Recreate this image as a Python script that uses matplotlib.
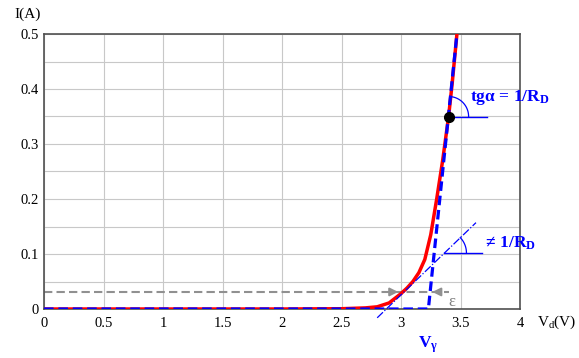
import matplotlib.pyplot as plt
import numpy as np
from matplotlib.ticker import MultipleLocator

# diode curve
v_diode = [0, 2.0, 2.5, 2.7, 2.8, 2.9, 3.0, 3.05, 3.1, 3.15, 3.2, 3.25, 3.3, 3.35, 3.4, 3.43, 3.47]
i_diode = [0, 0, 0.0005, 0.002, 0.004, 0.011, 0.028, 0.038, 0.05, 0.066, 0.09, 0.135, 0.2, 0.27, 0.35, 0.41, 0.5]

# piecewise linear model
v_model = [0, 3.23, 3.47]
i_model = [0, 0, 0.5]

# tangent at the low point
v_tan = [2.80, 3.63]
i_tan = [-0.016, 0.157]

x_ticks = [0, 0.5, 1, 1.5, 2, 2.5, 3, 3.5, 4]
x_labels = ['0', '0.5', '1', '1.5', '2', '2.5', '3', '3.5', '4']
y_ticks = [0, 0.1, 0.2, 0.3, 0.4, 0.5]
y_labels = ['0', '0.1', '0.2', '0.3', '0.4', '0.5']

v_op, i_op = 3.40, 0.35
i_eps = 0.031

plt.rcParams['font.family'] = ['Liberation Serif', 'DejaVu Serif']
plt.rcParams['mathtext.fontset'] = 'custom'
plt.rcParams['mathtext.rm'] = 'Liberation Serif'
plt.rcParams['mathtext.it'] = 'Liberation Serif:italic'
plt.rcParams['mathtext.bf'] = 'Liberation Serif:bold'

fig = plt.figure(figsize=(5.79, 3.58), dpi=100)
ax = fig.add_axes((44/579, 49/358, 476/579, 275/358))
sx, sy = 476/4, 275/0.5   # px per unit

ax.set_xlim(0, 4)
ax.set_ylim(0, 0.5)
ax.set_xticks(x_ticks)
ax.set_xticklabels(x_labels)
ax.set_yticks(y_ticks)
ax.set_yticklabels(y_labels)
ax.yaxis.set_minor_locator(MultipleLocator(0.05))
ax.tick_params(which='both', length=0, labelsize=10.5, colors='black')
ax.tick_params(axis='x', pad=6)
ax.tick_params(axis='y', pad=4)
ax.grid(which='both', color='#c8c8c8', lw=0.8)
ax.set_axisbelow(True)
for s in ax.spines.values():
    s.set_color('#505050')
    s.set_linewidth(1.2)

ax.plot(v_diode, i_diode, color='#ff0000', lw=2.5, zorder=3)
ax.plot(v_model, i_model, color='#0000ff', lw=2.3, ls=(0, (3, 1.5)), zorder=4)
ax.plot(v_tan, i_tan, color='#0000ff', lw=0.9, ls='-.', zorder=4, clip_on=False)

# grey dashed epsilon line with arrows
ax.plot([0, 3.4], [i_eps, i_eps], color='#909090', lw=1.5, ls=(0, (4, 2)), zorder=2)
ax.annotate('', xy=(3.0, i_eps), xytext=(2.88, i_eps),
            arrowprops=dict(arrowstyle='-|>', color='#909090', lw=1.5, mutation_scale=12))
ax.annotate('', xy=(3.24, i_eps), xytext=(3.36, i_eps),
            arrowprops=dict(arrowstyle='-|>', color='#909090', lw=1.5, mutation_scale=12))
ax.text(3.40, 0.013, 'ε', color='#808080', fontsize=12, ha='left', va='center')

# operating point and slope arc
ax.plot([v_op], [i_op], 'o', color='black', ms=7, zorder=5)
ax.plot([v_op, 3.72], [i_op, i_op], color='#0000ff', lw=1, zorder=4)
t = np.linspace(0, np.radians(84), 40)
ax.plot(v_op + 20/sx*np.cos(t), i_op + 20/sy*np.sin(t), color='#0000ff', lw=0.9, zorder=4)
ax.text(3.58, 0.385, r'$\mathbf{tg\alpha\,=\,1/R_D}$', color='#0000ff',
        fontsize=12.5, ha='left', va='center')

# tangent angle arc
v_a, i_a = 3.365, 0.102
ax.plot([v_a, 3.68], [i_a, i_a], color='#0000ff', lw=1, zorder=4)
t = np.linspace(0, np.radians(44), 30)
ax.plot(v_a + 22/sx*np.cos(t), i_a + 22/sy*np.sin(t), color='#0000ff', lw=0.9, zorder=4)
ax.text(3.69, 0.12, r'$\mathbf{\neq\,1/R_D}$', color='#0000ff',
        fontsize=12.5, ha='left', va='center')

ax.text(3.23, -0.065, r'$\mathbf{V_\gamma}$', color='#0000ff', fontsize=12.5,
        ha='center', va='center')

fig.text(14/579, 1 - 14/358, 'I(A)', fontsize=11, ha='left', va='center')
fig.text(537/579, 1 - 322/358, r'V$_\mathrm{d}$(V)', fontsize=11, ha='left', va='center')

fig.savefig('out.png', dpi=100)
